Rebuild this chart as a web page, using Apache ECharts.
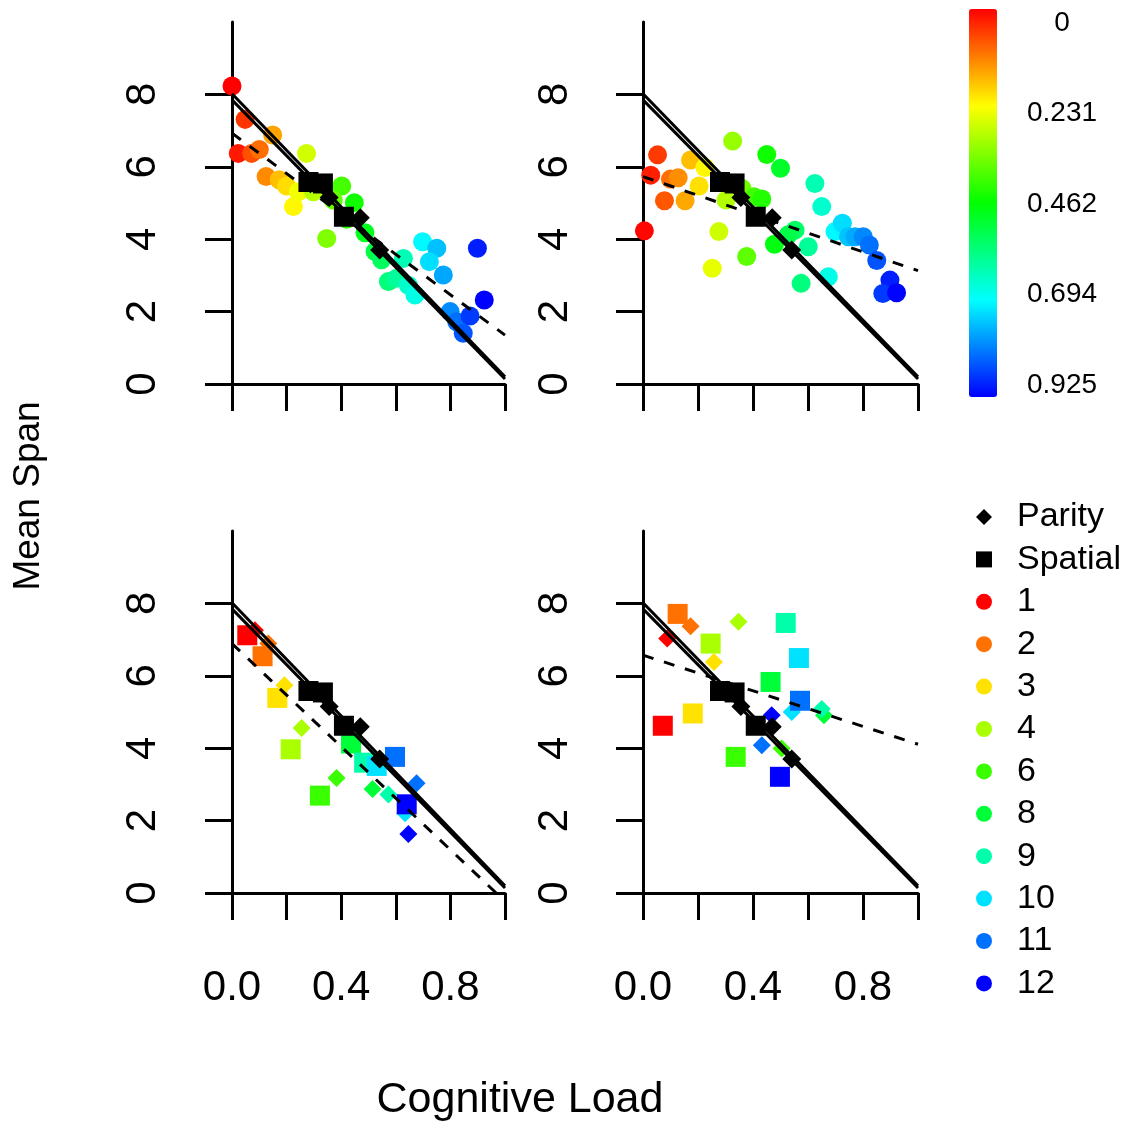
<!DOCTYPE html>
<html><head><meta charset="utf-8">
<script src="https://cdn.jsdelivr.net/npm/echarts@6/dist/echarts.min.js"></script>
<style>html,body{margin:0;padding:0;background:#fff}#c{width:1130px;height:1126px}</style>
</head><body><div id="c"></div>
<script>
// ---------- data ----------
const xTicks = [0, 0.2, 0.4, 0.6, 0.8, 1.0];
const xTickLabels = [0, 0.4, 0.8];
const yTicks = [0, 2, 4, 6, 8];
const colorbarTicks = [0, 0.231, 0.462, 0.694, 0.925];
const loadMax = 0.925;

// panel 1 (top-left) circles
const p1X = [0.0, 0.048, 0.149, 0.023, 0.072, 0.10, 0.273, 0.125, 0.173, 0.20, 0.225, 0.243, 0.298, 0.402, 0.448, 0.371, 0.42, 0.347, 0.487, 0.524, 0.548, 0.628, 0.573, 0.603, 0.646, 0.67, 0.698, 0.75, 0.723, 0.774, 0.799, 0.823, 0.847, 0.872, 0.899, 0.924];
const p1Y = [8.23, 7.31, 6.88, 6.37, 6.37, 6.48, 6.37, 5.73, 5.64, 5.47, 4.90, 5.31, 5.31, 5.47, 5.01, 5.08, 4.55, 4.02, 4.18, 3.66, 3.43, 3.47, 2.83, 2.92, 2.73, 2.46, 3.93, 3.75, 3.38, 3.01, 2.00, 1.72, 1.40, 1.88, 3.75, 2.32];

// panel 2 (top-right) circles
const p2X = [0.005, 0.028, 0.053, 0.078, 0.10, 0.128, 0.153, 0.173, 0.225, 0.204, 0.326, 0.276, 0.252, 0.302, 0.377, 0.36, 0.404, 0.432, 0.45, 0.50, 0.478, 0.553, 0.528, 0.601, 0.575, 0.625, 0.65, 0.674, 0.698, 0.725, 0.747, 0.771, 0.801, 0.823, 0.85, 0.898, 0.872, 0.922];
const p2Y = [4.23, 5.77, 6.33, 5.06, 5.66, 5.70, 5.06, 6.19, 5.98, 5.47, 6.71, 4.21, 3.20, 5.08, 3.52, 5.40, 5.17, 5.11, 6.34, 5.96, 3.86, 4.25, 4.12, 3.79, 2.78, 5.54, 4.90, 2.96, 4.21, 4.44, 4.07, 4.07, 4.07, 3.84, 3.41, 2.87, 2.50, 2.52];

// panels 3 & 4: one value per category
const categories = ['1', '2', '3', '4', '6', '8', '9', '10', '11', '12'];
const p3SpatialX = [0.056, 0.112, 0.166, 0.215, 0.322, 0.436, 0.484, 0.53, 0.597, 0.64];
const p3SpatialY = [7.12, 6.54, 5.39, 3.97, 2.69, 4.13, 3.60, 3.51, 3.76, 2.45];
const p3ParityX = [0.084, 0.133, 0.192, 0.255, 0.383, 0.515, 0.573, 0.634, 0.676, 0.646];
const p3ParityY = [7.26, 6.89, 5.74, 4.56, 3.18, 2.87, 2.72, 2.20, 3.03, 1.63];
const p4SpatialX = [0.072, 0.126, 0.181, 0.246, 0.337, 0.464, 0.519, 0.567, 0.571, 0.498];
const p4SpatialY = [4.62, 7.71, 4.96, 6.89, 3.76, 5.83, 7.46, 6.49, 5.31, 3.21];
const p4ParityX = [0.088, 0.173, 0.258, 0.347, 0.504, 0.658, 0.65, 0.541, 0.432, 0.468];
const p4ParityY = [7.03, 7.37, 6.38, 7.49, 3.99, 4.91, 5.08, 5.00, 4.08, 4.91];

// group means (same in every panel)
const meanSpatialX = [0.28, 0.333, 0.41];
const meanSpatialY = [5.58, 5.54, 4.62];
const meanParityX = [0.356, 0.47, 0.541];
const meanParityY = [5.15, 4.59, 3.70];

// regression lines
const popIntercepts = [8.02, 7.85];
const popSlopes = [-7.82, -7.71];
const panelIntercepts = [6.93, 5.73, 6.89, 6.57];
const panelSlopes = [-5.58, -2.60, -7.12, -2.46];

// ---------- styles ----------
const FONT = "'Liberation Sans', Arial, Helvetica, sans-serif";
const palette = ['#FF0000', '#FF7100', '#FFE200', '#AAFF00', '#39FF00', '#00FF39', '#00FFAA', '#00E2FF', '#0071FF', '#0000FF'];
const rainbow = ['#FF0000', '#FFFF00', '#00FF00', '#00FFFF', '#0000FF'];
const grids = [
  {left: 232, top: 22, width: 273, height: 362},
  {left: 643, top: 22, width: 275, height: 362},
  {left: 232, top: 531, width: 273, height: 362},
  {left: 643, top: 531, width: 275, height: 362},
  {left: 990, top: 23, width: 20, height: 362}
];
const zip = (xs, ys) => xs.map((x, i) => [x, ys[i]]);

const xAxes = [0, 1, 2, 3].map(i => ({
  type: 'value', gridIndex: i, min: 0, max: 1, offset: 14,
  axisLine: {show: true, lineStyle: {color: '#000', width: 3}},
  axisTick: {show: true, customValues: xTicks, length: 27, lineStyle: {color: '#000', width: 3}},
  axisLabel: {show: i >= 2, customValues: xTickLabels, formatter: v => v.toFixed(1),
    fontSize: 42, fontFamily: FONT, color: '#000', margin: 60},
  splitLine: {show: false}
}));
xAxes.push({type: 'value', gridIndex: 4, show: false, min: 0, max: 1});

const yAxes = [0, 1, 2, 3].map(i => ({
  type: 'value', gridIndex: i, min: 0, max: 10, offset: (i % 2 === 0) ? 11 : 10,
  axisLine: {show: true, lineStyle: {color: '#000', width: 3}},
  axisTick: {show: true, customValues: yTicks, length: 27, lineStyle: {color: '#000', width: 3}},
  axisLabel: {show: true, customValues: yTicks, rotate: 90, fontSize: 42, fontFamily: FONT, color: '#000', margin: 57},
  splitLine: {show: false}
}));
yAxes.push({
  type: 'value', gridIndex: 4, min: 0, max: loadMax, inverse: true, position: 'right',
  axisLine: {show: false}, axisTick: {show: false}, splitLine: {show: false},
  axisLabel: {show: true, customValues: colorbarTicks, formatter: v => String(v), align: 'center',
    fontSize: 28, fontFamily: FONT, color: '#000', margin: 52}
});

const series = [];
const solid = {opacity: 1};
// circles (panels 1,2) - coloured by cognitive load through visualMap
series.push({type: 'scatter', name: 'p1', xAxisIndex: 0, yAxisIndex: 0, symbol: 'circle', symbolSize: 19, itemStyle: solid, data: zip(p1X, p1Y), z: 2});
series.push({type: 'scatter', name: 'p2', xAxisIndex: 1, yAxisIndex: 1, symbol: 'circle', symbolSize: 19, itemStyle: solid, data: zip(p2X, p2Y), z: 2});

// category markers (panels 3,4)
const catPanels = [
  {g: 2, px: p3ParityX, py: p3ParityY, sx: p3SpatialX, sy: p3SpatialY},
  {g: 3, px: p4ParityX, py: p4ParityY, sx: p4SpatialX, sy: p4SpatialY}
];
catPanels.forEach(p => {
  categories.forEach((c, i) => {
    series.push({type: 'scatter', name: c, xAxisIndex: p.g, yAxisIndex: p.g, symbol: 'diamond', symbolSize: 18,
      itemStyle: {color: palette[i], opacity: 1}, data: [[p.px[i], p.py[i]]], z: 2});
  });
  categories.forEach((c, i) => {
    series.push({type: 'scatter', name: c, xAxisIndex: p.g, yAxisIndex: p.g, symbol: 'rect', symbolSize: 20,
      itemStyle: {color: palette[i], opacity: 1}, data: [[p.sx[i], p.sy[i]]], z: 2});
  });
});

// lines
[0, 1, 2, 3].forEach(g => {
  popIntercepts.forEach((a, k) => {
    series.push({type: 'line', name: 'pop' + k, xAxisIndex: g, yAxisIndex: g, silent: true, symbol: 'none', clip: true,
      lineStyle: {color: '#000', width: 3}, data: [[0, a], [1, a + popSlopes[k]]], z: 3});
  });
  series.push({type: 'line', name: 'fit' + g, xAxisIndex: g, yAxisIndex: g, silent: true, symbol: 'none', clip: true,
    lineStyle: {color: '#000', width: 3, type: [11, 11]},
    data: [[0, panelIntercepts[g]], [1, panelIntercepts[g] + panelSlopes[g]]], z: 3});
});

// means
[0, 1, 2, 3].forEach(g => {
  series.push({type: 'scatter', name: 'Parity', xAxisIndex: g, yAxisIndex: g, symbol: 'diamond', symbolSize: 19,
    itemStyle: {color: '#000', opacity: 1}, data: zip(meanParityX, meanParityY), z: 4});
  series.push({type: 'scatter', name: 'Spatial', xAxisIndex: g, yAxisIndex: g, symbol: 'rect', symbolSize: 20,
    itemStyle: {color: '#000', opacity: 1}, data: zip(meanSpatialX, meanSpatialY), z: 4});
});
series.push({type: 'scatter', name: 'cb', xAxisIndex: 4, yAxisIndex: 4, data: [], silent: true});

const option = {
  animation: false,
  backgroundColor: '#fff',
  grid: grids,
  xAxis: xAxes,
  yAxis: yAxes,
  visualMap: {
    type: 'continuous', min: 0, max: loadMax, dimension: 0, seriesIndex: [0, 1],
    inRange: {color: rainbow}, orient: 'vertical', inverse: true,
    itemWidth: 28, itemHeight: 388, left: 969, top: 9, padding: 0,
    calculable: false, hoverLink: false, text: null
  },
  legend: {
    orient: 'vertical', left: 976, top: 500, padding: 0, itemWidth: 16, itemHeight: 16, itemGap: 8.4,
    selectedMode: false, symbolKeepAspect: true,
    textStyle: {fontSize: 34, fontFamily: FONT, color: '#000', lineHeight: 34, padding: [0, 0, 0, 20]},
    data: [{name: 'Parity', icon: 'diamond'}, {name: 'Spatial', icon: 'rect'}]
      .concat(categories.map(c => ({name: c, icon: 'circle'})))
  },
  graphic: [
    {type: 'text', x: 29, y: 496, rotation: Math.PI / 2,
      style: {text: 'Mean Span', font: "37px " + FONT, fill: '#000', textAlign: 'center', textVerticalAlign: 'middle'}},
    {type: 'text', x: 520, y: 1100,
      style: {text: 'Cognitive Load', font: "43px " + FONT, fill: '#000', textAlign: 'center', textVerticalAlign: 'middle'}}
  ],
  series: series
};
const chart = echarts.init(document.getElementById('c'), null, {renderer: 'canvas'});
chart.setOption(option);
</script>
</body></html>
